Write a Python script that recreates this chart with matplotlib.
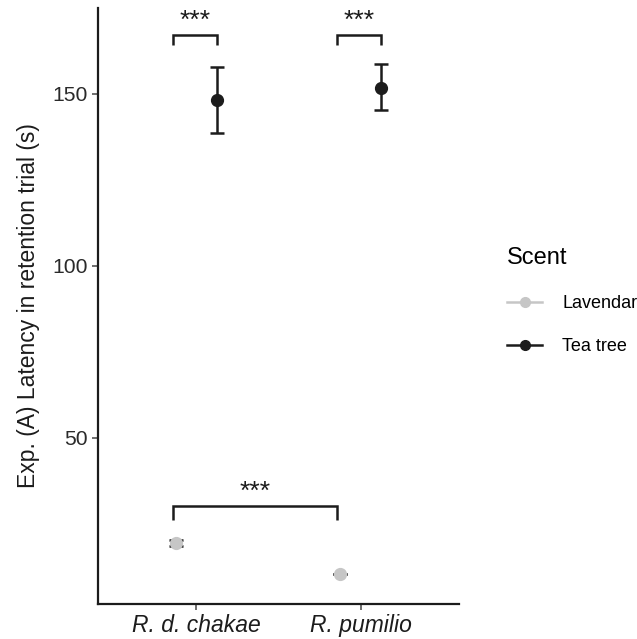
import matplotlib
matplotlib.use("Agg")
import matplotlib.pyplot as plt
from matplotlib.lines import Line2D
import numpy as np

plt.rcParams["font.family"] = ["Liberation Sans", "DejaVu Sans"]

species = ["R. d. chakae", "R. pumilio"]
scents = ["Lavendar", "Tea tree"]
colors = ["#c6c6c6", "#1c1c1c"]
means = {"Lavendar": [19.5, 10.5], "Tea tree": [148.2, 151.8]}
lower = {"Lavendar": [18.6, 10.5], "Tea tree": [138.6, 145.2]}
upper = {"Lavendar": [20.4, 10.5], "Tea tree": [157.8, 158.6]}
dodge = [-0.125, 0.125]

# significance brackets: (x1, x2, y, tip, label)
brackets = [
    (1 - 0.145, 1 + 0.125, 167.2, 3.0, "***"),
    (2 - 0.145, 2 + 0.125, 167.2, 3.0, "***"),
    (1 - 0.145, 2 - 0.145, 30.2, 4.0, "***"),
]

fig = plt.figure(figsize=(6.37, 6.39), dpi=100)
ax = fig.add_axes([0.1538, 0.0548, 0.7206 - 0.1538, 0.9875 - 0.0548])

x = np.arange(1, len(species) + 1)
for s, c, d in zip(scents, colors, dodge):
    m = np.array(means[s]); lo = np.array(lower[s]); hi = np.array(upper[s])
    ax.errorbar(x + d, m, yerr=[m - lo, hi - m], fmt="none", ecolor="#1c1c1c",
                elinewidth=1.8, capsize=5, capthick=1.8, zorder=2)
    ax.plot(x + d, m, "o", color=c, markersize=8.5, zorder=3, linestyle="none")

for x1, x2, y, tip, lab in brackets:
    ax.plot([x1, x1, x2, x2], [y - tip, y, y, y - tip], color="#1c1c1c", lw=1.8,
            solid_capstyle="butt", solid_joinstyle="miter")
    ax.text((x1 + x2) / 2, y + 0.6, lab, ha="center", va="bottom", fontsize=19,
            color="#1c1c1c")

ax.set_xlim(0.4, 2.6)
ax.set_ylim(1.7, 175)
ax.set_xticks(x)
ax.set_xticklabels(species, fontsize=16.5, fontstyle="italic", color="#1c1c1c")
ax.set_yticks([50, 100, 150])
ax.set_yticklabels(["50", "100", "150"], fontsize=15.2, color="#2a2a2a")
ax.tick_params(axis="both", length=4, width=1.2, color="#555555", pad=3)
for sp in ["top", "right"]:
    ax.spines[sp].set_visible(False)
for sp in ["left", "bottom"]:
    ax.spines[sp].set_linewidth(1.6)
    ax.spines[sp].set_color("#1c1c1c")
ax.set_ylabel("Exp. (A) Latency in retention trial (s)", fontsize=16.5, color="#1c1c1c", labelpad=9)

handles = [Line2D([0], [0], color=c, marker="o", markersize=7, lw=1.8) for c in colors]
leg = fig.legend(handles, scents, title="Scent", loc="upper left",
                 bbox_to_anchor=(0.785, 0.625), frameon=False, fontsize=13,
                 title_fontsize=17, handlelength=1.95, labelspacing=1.45,
                 handletextpad=1.1, borderaxespad=0)
leg._legend_box.align = "left"

fig.savefig("out.png", dpi=100)
